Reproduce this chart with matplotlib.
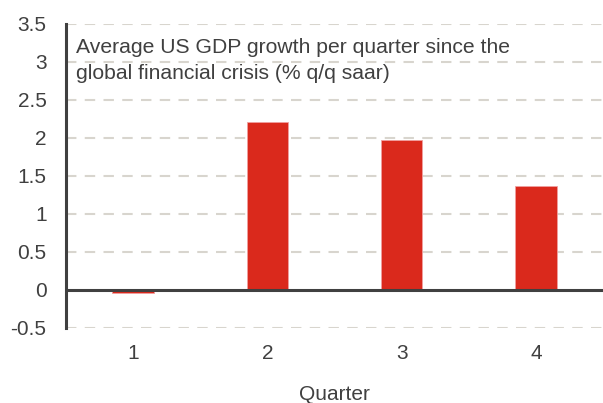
import matplotlib
matplotlib.use("Agg")
import matplotlib.pyplot as plt

plt.rcParams['font.family'] = ['Liberation Sans', 'DejaVu Sans']

quarters = ["1", "2", "3", "4"]
growth = [-0.05, 2.21, 1.97, 1.36]
y_ticks = [-0.5, 0, 0.5, 1, 1.5, 2, 2.5, 3, 3.5]
y_labels = ["-0.5", "0", "0.5", "1", "1.5", "2", "2.5", "3", "3.5"]
title_text = "Average US GDP growth per quarter since the\nglobal financial crisis (% q/q saar)"

text_color = "#404040"
bar_color = "#da291c"
grid_color = "#d8d5ce"

fig = plt.figure(figsize=(6.03, 4.03), dpi=100)
ax = fig.add_axes([0.1095, 0.187, 0.8905, 0.754])

x = list(range(1, len(quarters) + 1))
ax.bar(x, growth, width=0.31, color=bar_color, edgecolor="#f0a0a0",
       linewidth=0.6, zorder=3)

ax.set_xlim(0.5, 4.5)
ax.set_ylim(-0.5, 3.5)
ax.set_yticks(y_ticks)
ax.set_yticklabels(y_labels)
ax.set_xticks(x)
ax.set_xticklabels(quarters)

for v in y_ticks:
    if v != 0:
        ax.axhline(v, color=grid_color, linewidth=1.5, linestyle=(0, (5, 4)), zorder=1)
ax.axhline(0, color=text_color, linewidth=2.2, zorder=4)

for s in ["top", "right", "bottom"]:
    ax.spines[s].set_visible(False)
ax.spines["left"].set_color(text_color)
ax.spines["left"].set_linewidth(2.2)

ax.tick_params(axis="y", length=0, pad=14, labelsize=15, labelcolor=text_color)
ax.tick_params(axis="x", length=0, pad=12, labelsize=15, labelcolor=text_color)
ax.set_xlabel("Quarter", fontsize=15, color=text_color, labelpad=15.5)

ax.text(0.0186, 0.952, title_text, transform=ax.transAxes, ha="left", va="top",
        fontsize=15.2, color=text_color, linespacing=1.45, zorder=5)

fig.savefig("out.png", dpi=100)
